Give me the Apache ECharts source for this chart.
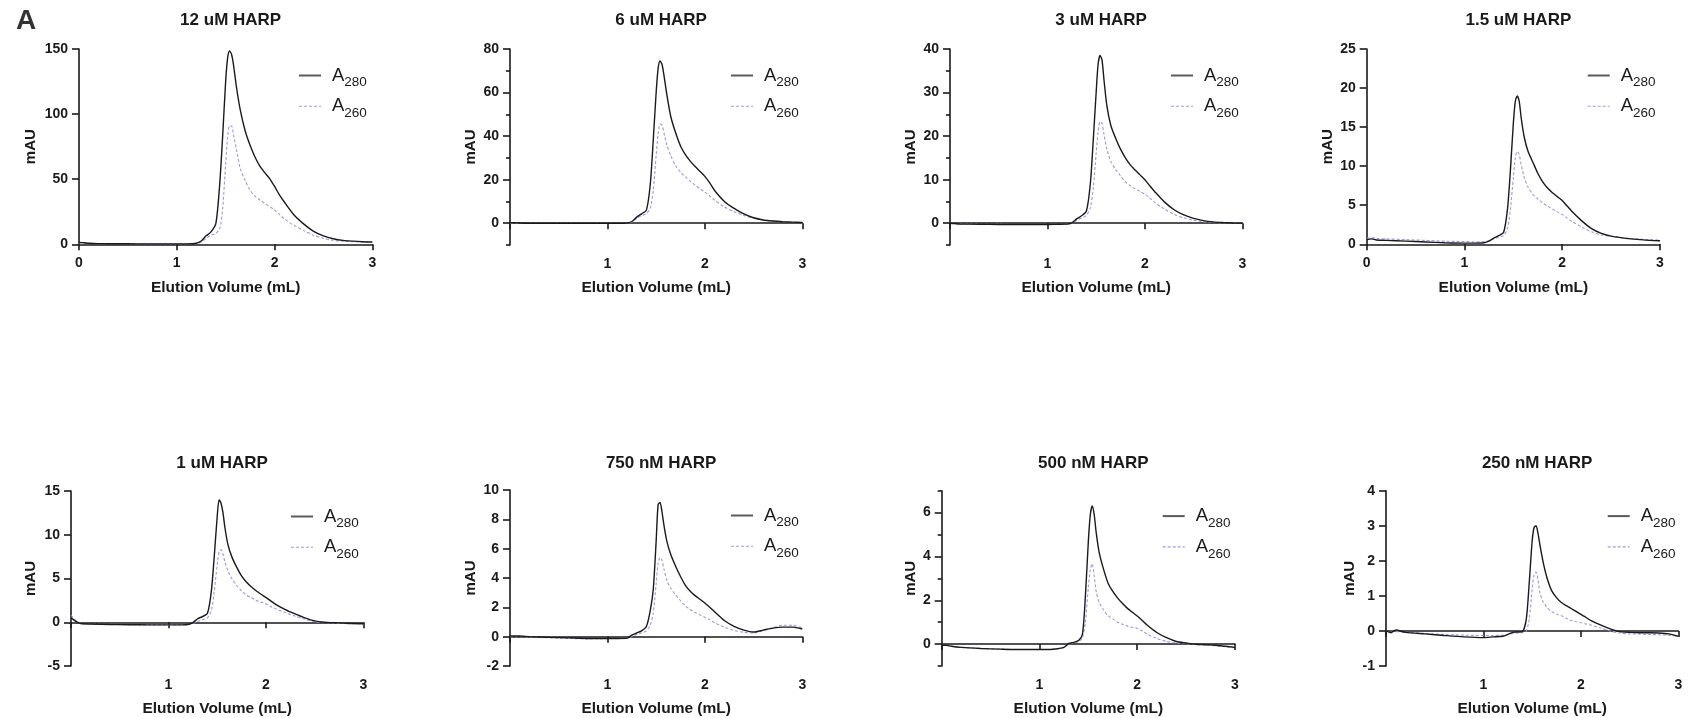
<!DOCTYPE html>
<html><head><meta charset="utf-8">
<script src="https://cdn.jsdelivr.net/npm/echarts@6/dist/echarts.min.js"></script>
<style>html,body{margin:0;padding:0;background:#fff}#c{width:1688px;height:718px}</style>
</head><body><div id="c"></div>
<script>
// ---------------- DATA ----------------
const panelTitles = ['12 uM HARP','6 uM HARP','3 uM HARP','1.5 uM HARP','1 uM HARP','750 nM HARP','500 nM HARP','250 nM HARP'];
const volume = [0,0.05,0.1,0.2,0.4,0.6,0.8,1.0,1.1,1.2, 1.25,1.3,1.35,1.4,1.44,1.47,1.5,1.52,1.54,1.56, 1.58,1.61,1.65,1.7,1.75,1.8,1.85,1.9,1.95,2.0, 2.05,2.1,2.2,2.3,2.4,2.5,2.6,2.7,2.8,2.9, 3.0];

const a280_12uM = [1.5,1.2,0.8,0.5,0.4,0.35,0.3,0.3,0.3,0.8, 2.5,6.5,9.5,16,47,84,125,143,148.5,146, 138,121,103,87,76,67,60,55,50.5,44.5, 38,32.5,22.5,15.5,10,6.5,4.3,3.0,2.4,2.0, 1.8];
const a260_12uM = [1.2,1.0,0.7,0.5,0.4,0.35,0.3,0.3,0.3,0.6, 1.8,4.5,7,8.5,12,28,62,82,91,91, 84,73,58,49,41.5,37,34,31.5,29,26.5, 23,19.5,14.5,10.5,7,4.5,3.0,2.3,2.0,1.8, 1.7];
const a280_6uM = [0.2,0.2,0.1,0,0,0,0,0,0,0.1, 0.8,2.8,4.3,6,18,38,60,71,74.5,73, 68,59,49,41.5,35.5,31.5,28.5,26,23.8,21.5, 18.5,15,10,6.8,4.3,2.5,1.5,1.0,0.7,0.5, 0.4];
const a260_6uM = [0,0,0,0,0,0,0,0,0,0.05, 0.5,2.2,3.5,4.5,7,15,31,41,45.5,45, 41.5,36,31,26.5,23.5,21.3,19.3,17.5,15.8,14.3, 12.5,10.6,7.5,5.3,3.6,2.3,1.4,0.9,0.6,0.4, 0.3];
const a280_3uM = [0,-0.1,-0.2,-0.2,-0.25,-0.3,-0.3,-0.3,-0.25,-0.2, 0.1,1.0,1.7,2.8,9,19,30,36.5,38.5,37.5, 33,27,22.5,19.5,17,15,13.4,12.2,11.1,10, 8.6,7.3,4.9,3.1,1.9,1.1,0.6,0.3,0.15,0.05, 0];
const a260_3uM = [0,-0.1,-0.2,-0.2,-0.25,-0.28,-0.3,-0.3,-0.25,-0.2, 0,0.6,1.2,1.8,3.5,8,16,21,23.3,23, 20.5,17,14.2,12.3,10.9,9.5,8.6,7.9,7.3,6.7, 5.8,4.8,3.3,2.0,1.2,0.7,0.35,0.2,0.1,0.05, 0];
const a280_1_5uM = [0.6,0.7,0.55,0.5,0.4,0.3,0.2,0.15,0.15,0.2, 0.4,0.8,1.1,1.5,4.5,9.5,15.5,18.3,19,18.3, 16.2,13.8,11.9,10.5,9.1,8.0,7.2,6.6,6.1,5.6, 4.9,4.2,3.0,2.0,1.4,1.05,0.85,0.7,0.6,0.5, 0.45];
const a260_1_5uM = [0.8,0.85,0.75,0.7,0.6,0.5,0.4,0.35,0.3,0.35, 0.45,0.7,0.9,1.1,2.0,4.5,8.5,11,11.9,11.5, 10.2,8.6,7.3,6.4,5.8,5.3,4.9,4.5,4.15,3.8, 3.35,2.9,2.2,1.6,1.2,1.0,0.85,0.75,0.65,0.6, 0.55];
const a280_1uM = [0.5,0.1,-0.15,-0.2,-0.25,-0.28,-0.3,-0.3,-0.3,-0.25, -0.05,0.4,0.65,1.0,3.5,7.5,12,14,13.6,12.5, 10.8,8.9,7.5,6.3,5.3,4.6,4.05,3.6,3.2,2.85, 2.45,2.05,1.45,0.95,0.5,0.15,0.0,-0.05,-0.1,-0.15, -0.17];
const a260_1uM = [0.8,0.2,-0.1,-0.2,-0.25,-0.28,-0.3,-0.3,-0.3,-0.25, -0.15,0.1,0.3,0.5,1.3,3.5,6.5,8.0,8.3,7.8, 6.9,5.9,5.0,4.2,3.6,3.1,2.8,2.5,2.3,2.1, 1.8,1.55,1.1,0.7,0.35,0.05,-0.05,-0.1,-0.15,-0.18, -0.2];
const a280_750nM = [0.05,0.05,0.05,0,-0.05,-0.08,-0.12,-0.12,-0.12,-0.1, 0.1,0.25,0.4,0.7,1.8,3.2,6.5,9.0,9.15,8.5, 7.6,6.5,5.6,4.8,4.1,3.5,3.1,2.8,2.55,2.3, 2.0,1.7,1.1,0.7,0.45,0.32,0.45,0.58,0.65,0.65, 0.52];
const a260_750nM = [0,0,0,-0.03,-0.08,-0.12,-0.15,-0.13,-0.12,-0.1, 0,0.15,0.25,0.4,0.8,1.6,3.6,5.0,5.4,5.2, 4.6,3.85,3.3,2.85,2.45,2.1,1.85,1.65,1.48,1.33, 1.15,0.95,0.65,0.42,0.3,0.25,0.42,0.62,0.78,0.78, 0.6];
const a280_500nM = [-0.05,-0.05,-0.1,-0.15,-0.2,-0.23,-0.25,-0.25,-0.25,-0.2, -0.15,0.03,0.08,0.16,0.46,2.2,4.7,5.9,6.3,5.9, 5.1,4.2,3.5,2.8,2.4,2.1,1.85,1.63,1.45,1.28, 1.08,0.87,0.53,0.29,0.12,0.05,-0.01,-0.03,-0.05,-0.1, -0.15];
const a260_500nM = [-0.05,-0.05,-0.1,-0.15,-0.2,-0.23,-0.25,-0.25,-0.25,-0.2, -0.15,0.0,0.05,0.1,0.3,1.0,2.6,3.4,3.67,3.1, 2.4,1.9,1.6,1.3,1.15,1.0,0.9,0.82,0.76,0.72, 0.6,0.46,0.26,0.12,0.05,0.02,-0.02,-0.05,-0.08,-0.12, -0.15];
const a280_250nM = [0,-0.05,0.03,-0.04,-0.085,-0.13,-0.17,-0.19,-0.17,-0.15, -0.1,-0.04,-0.03,-0.02,0.34,1.37,2.56,2.95,3.0,2.78, 2.45,2.0,1.54,1.15,0.95,0.81,0.72,0.64,0.56,0.47, 0.39,0.3,0.17,0.06,-0.02,-0.04,-0.05,-0.05,-0.06,-0.085, -0.15];
const a260_250nM = [0,-0.03,-0.02,-0.04,-0.07,-0.1,-0.12,-0.13,-0.13,-0.12, -0.1,-0.08,-0.06,-0.04,0.0,0.34,1.2,1.6,1.68,1.45, 1.08,0.85,0.68,0.55,0.48,0.43,0.36,0.3,0.27,0.24, 0.2,0.17,0.085,0.0,-0.06,-0.085,-0.09,-0.1,-0.11,-0.12, -0.15];

const yRange = [[0,150],[-10,80],[-5,40],[0,25],[-5,15],[-2,10],[-1,7],[-1,4]];
const yStep = [50,10,5,5,5,2,1,1];
const yMajorTicks = [[0,50,100,150],[0,20,40,60,80],[0,10,20,30,40],[0,5,10,15,20,25],[-5,0,5,10,15],[-2,0,2,4,6,8,10],[0,2,4,6],[-1,0,1,2,3,4]];
const yMinorTicks = [[],[-10,10,30,50,70],[-5,5,15,25,35],[],[],[],[-1,1,3,5,7],[]];
const xTicks = [0,1,2,3];
const showXZero = [true,false,false,true,false,false,false,false];
const seriesNames = ['A280','A260'];

// ---------------- LAYOUT / STYLE ----------------
const layout = [
  {left:79,   top:49,    width:293.3, height:195.3, nameGap:40.5, legL:298,    legT:76.7},
  {left:510,  top:49,    width:292.3, height:196,   nameGap:31.5, legL:730,    legT:76.7},
  {left:950,  top:49,    width:292.3, height:196,   nameGap:32,   legL:1170,   legT:76.7},
  {left:1366.7,top:49,   width:293.3, height:195.3, nameGap:31.7, legL:1586.7, legT:76.7},
  {left:71,   top:491,   width:292.3, height:194.7, nameGap:32.5, legL:290,    legT:517.7},
  {left:510,  top:490,   width:292.3, height:195,   nameGap:31.5, legL:730,    legT:516.7},
  {left:941.7,top:490.7, width:293.3, height:195,   nameGap:23,   legL:1161.7, legT:517.3},
  {left:1386, top:490.7, width:292.3, height:195,   nameGap:29,   legL:1606.7, legT:517.3}
];
const allData = [
  [a280_12uM,a260_12uM],[a280_6uM,a260_6uM],[a280_3uM,a260_3uM],[a280_1_5uM,a260_1_5uM],
  [a280_1uM,a260_1uM],[a280_750nM,a260_750nM],[a280_500nM,a260_500nM],[a280_250nM,a260_250nM]
];
const ink = '#1a1a1a';
const lav = '#a496e4';
const FF = '"Liberation Sans", Arial, Helvetica, sans-serif';

const grid = [], xAxis = [], yAxis = [], series = [], legend = [], title = [];
title.push({text:'A', left:11, top:2, textStyle:{fontSize:28, fontWeight:'bold', color:'#333', fontFamily:FF}});

layout.forEach((L, i) => {
  grid.push({left:L.left, top:L.top, width:L.width, height:L.height});
  title.push({text:panelTitles[i], left:L.left + L.width/2, top: i < 4 ? 7 : 450, textAlign:'center',
    textStyle:{fontSize:17, fontWeight:'bold', color:ink, fontFamily:FF}});
  xAxis.push({type:'value', gridIndex:i, min:0, max:3, interval:1,
    name:'Elution Volume (mL)', nameLocation:'middle', nameGap:35,
    nameTextStyle:{fontSize:15.5, fontWeight:'bold', color:ink, fontFamily:FF},
    axisLine:{onZero:true, onZeroAxisIndex: 2*i, lineStyle:{color:ink, width:1.6}},
    axisTick:{length:6, customValues: xTicks, lineStyle:{color:ink, width:1.6}},
    axisLabel:{customValues: showXZero[i] ? xTicks : xTicks.slice(1),
      fontSize:14, fontWeight:'bold', color:ink, margin:12, fontFamily:FF},
    splitLine:{show:false}});
  yAxis.push({type:'value', gridIndex:i, min:yRange[i][0], max:yRange[i][1], interval:yStep[i], position:'left',
    name:'mAU', nameLocation:'middle', nameGap:L.nameGap, nameRotate:90,
    nameTextStyle:{fontSize:15, fontWeight:'bold', color:ink, fontFamily:FF},
    axisLine:{show:true, onZero:false, lineStyle:{color:ink, width:1.6}},
    axisTick:{show:true, length:7, customValues:yMajorTicks[i], lineStyle:{color:ink, width:1.6}},
    axisLabel:{customValues:yMajorTicks[i], fontSize:14, fontWeight:'bold', color:ink, margin:11, fontFamily:FF},
    splitLine:{show:false}});
  yAxis.push({type:'value', gridIndex:i, min:yRange[i][0], max:yRange[i][1], interval:yStep[i], position:'left',
    axisLine:{show:false, onZero:false},
    axisTick:{show:yMinorTicks[i].length > 0, length:4, customValues:yMinorTicks[i].length ? yMinorTicks[i] : [yRange[i][0]], lineStyle:{color:ink, width:1.6}},
    axisLabel:{show:false}, splitLine:{show:false}});
  allData[i].forEach((arr, k) => {
    series.push({type:'line', name:seriesNames[k], xAxisIndex:i, yAxisIndex:2*i,
      data: volume.map((v, j) => [v, arr[j]]),
      symbol:'none', showSymbol:false, smooth:0.25, z: k === 0 ? 3 : 2,
      lineStyle: k === 0 ? {color:ink, width:1.4} : {color:lav, width:1.1, type:[3,2]},
      itemStyle:{color: k === 0 ? ink : lav},
      silent:true, animation:false});
  });
  legend.push({left:L.legL, top:L.legT - 12, orient:'vertical', itemWidth:22, itemHeight:27, itemGap:6,
    selectedMode:false, padding:0,
    data:[{name:'A280', itemStyle:{opacity:0}, lineStyle:{color:'#5a5a5a', width:2}},
          {name:'A260', itemStyle:{opacity:0}, lineStyle:{color:lav, width:1.1, type:[3,2]}}],
    formatter: n => '{a|A}{s|' + n.slice(1) + '}',
    textStyle:{rich:{
      a:{fontSize:18.5, color:ink, fontFamily:FF, padding:[0,0,0,6]},
      s:{fontSize:13.5, color:ink, fontFamily:FF, padding:[14,0,0,0]}
    }}});
});

const chart = echarts.init(document.getElementById('c'), null, {renderer:'canvas'});
chart.setOption({animation:false, backgroundColor:'#fff', title, grid, xAxis, yAxis, series, legend});
</script>
</body></html>
